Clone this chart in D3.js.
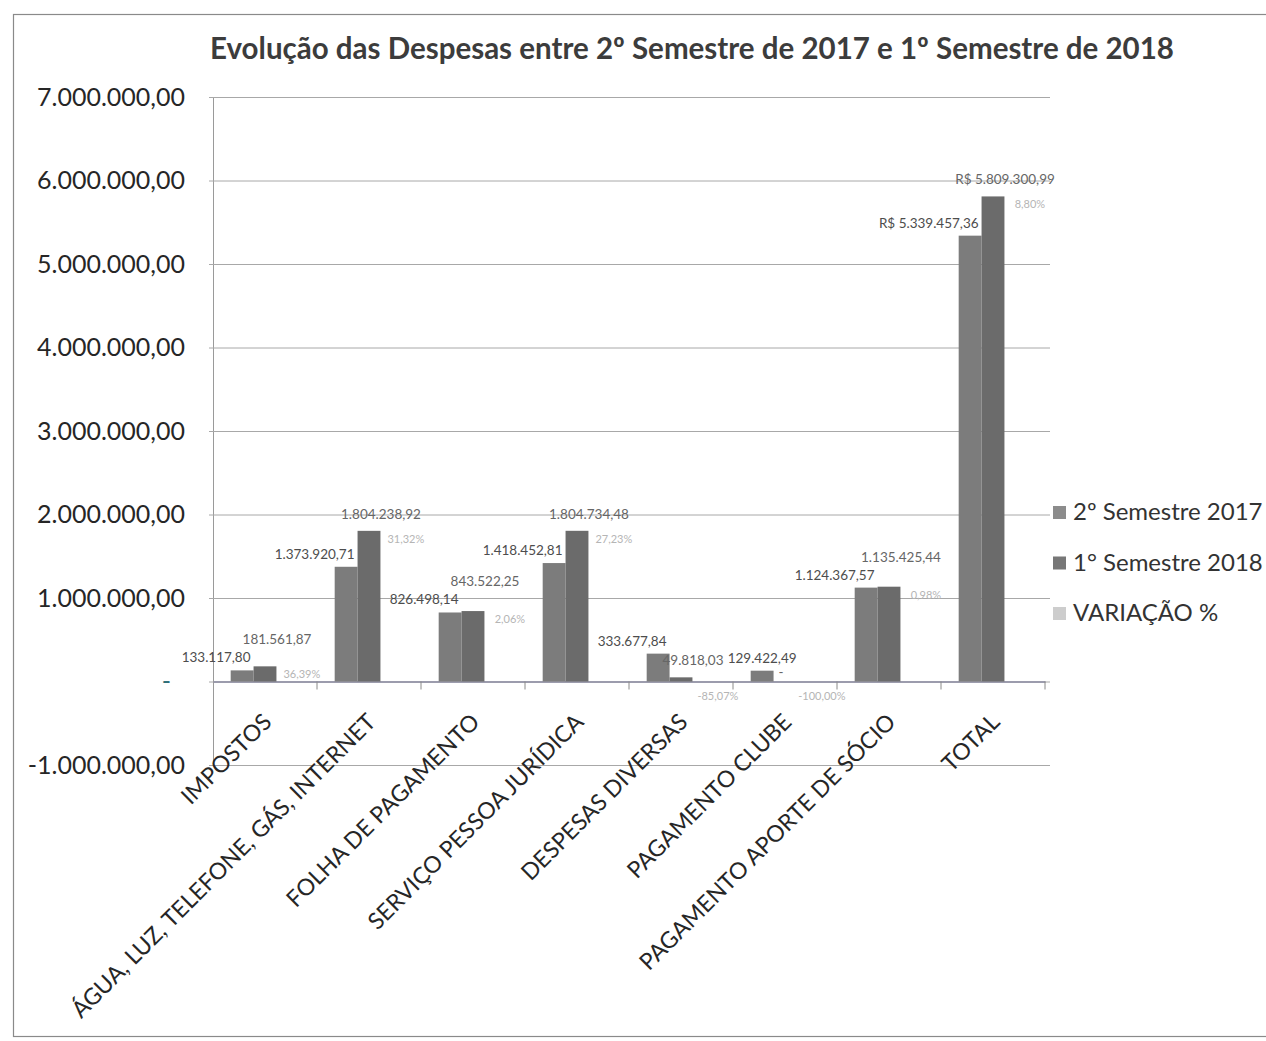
<!DOCTYPE html>
<html>
<head>
<meta charset="utf-8">
<script src="https://cdn.jsdelivr.net/npm/d3@7"></script>
<style>
  body { margin: 0; background: #fff; }
  svg { display: block; font-family: Lato, 'Open Sans', sans-serif; }
</style>
</head>
<body>
<svg id="chart" width="1266" height="1041"></svg>
<script>
// categories and values
const categories = [
  'IMPOSTOS',
  'ÁGUA, LUZ, TELEFONE, GÁS, INTERNET',
  'FOLHA DE PAGAMENTO',
  'SERVIÇO PESSOA JURÍDICA',
  'DESPESAS DIVERSAS',
  'PAGAMENTO CLUBE',
  'PAGAMENTO APORTE DE SÓCIO',
  'TOTAL'
];
const sem2017 = [133117.80, 1373920.71, 826498.14, 1418452.81, 333677.84, 129422.49, 1124367.57, 5339457.36];
const sem2018 = [181561.87, 1804238.92, 843522.25, 1804734.48, 49818.03, 0, 1135425.44, 5809300.99];
const variacao = [36.39, 31.32, 2.06, 27.23, -85.07, -100.00, 0.98, 8.80];
const yTicks = [-1000000, 0, 1000000, 2000000, 3000000, 4000000, 5000000, 6000000, 7000000];
const seriesNames = ['2º Semestre 2017', '1° Semestre 2018', 'VARIAÇÃO %'];

const colors = ['#7c7c7c', '#6b6b6b', '#c9c9c9'];

const ptBR = d3.formatLocale({decimal: ',', thousands: '.', grouping: [3], currency: ['R$ ', ''], minus: '-'});
const money = ptBR.format(',.2f');

const svg = d3.select('#chart');

// outer frame of the chart object
svg.append('rect')
  .attr('x', 13.5).attr('y', 14.5)
  .attr('width', 1270).attr('height', 1022)
  .attr('fill', 'none')
  .attr('stroke', '#8a8a8a')
  .attr('stroke-width', 1.2);

// title
svg.append('text')
  .attr('x', 692).attr('y', 59)
  .attr('text-anchor', 'middle')
  .attr('font-size', 29.5)
  .attr('font-weight', 'bold')
  .attr('fill', '#3c3c3c')
  .text('Evolução das Despesas entre 2º Semestre de 2017 e 1º Semestre  de 2018');

const plot = {left: 213, right: 1045, top: 97, bottom: 765};

const x = d3.scaleBand()
  .domain(categories)
  .range([plot.left, plot.right])
  .paddingInner(0.34)
  .paddingOuter(0.17);

const xs = d3.scaleBand()
  .domain([0, 1, 2])
  .range([0, x.bandwidth()]);

const y = d3.scaleLinear()
  .domain([-1000000, 7000000])
  .range([plot.bottom, plot.top]);

// gridlines + y labels
const yAxis = d3.axisLeft(y)
  .tickValues(yTicks)
  .tickSize(-(1050 - plot.left))
  .tickPadding(28)
  .tickFormat(d => d === 0 ? '-' : money(d));

const gy = svg.append('g')
  .attr('transform', `translate(${plot.left},0)`)
  .call(yAxis);
gy.select('.domain').attr('stroke', '#9a9a9a');
gy.selectAll('.tick line').attr('stroke', '#a8a8a8').attr('stroke-width', 1).attr('x1', -4);
gy.selectAll('.tick text')
  .attr('font-size', 25)
  .attr('font-family', 'Lato, sans-serif')
  .attr('dx', d => d === 0 ? -14 : 0)
  .attr('fill', d => d === 0 ? '#2e6f78' : '#262626');

// category axis on the zero line
const xAxis = d3.axisBottom(x).tickSize(0).tickFormat('');
const gx = svg.append('g')
  .attr('transform', `translate(0,${y(0)})`)
  .call(xAxis);
gx.select('.domain').attr('stroke', '#8a8aa0').attr('stroke-width', 1.5);

// tick marks at category boundaries
const step = x.step();
svg.append('g')
  .selectAll('line')
  .data(categories)
  .join('line')
  .attr('x1', d => x(d) - x.paddingOuter() * step + step)
  .attr('x2', d => x(d) - x.paddingOuter() * step + step)
  .attr('y1', y(0))
  .attr('y2', y(0) + 8)
  .attr('stroke', '#8a8a8a');

// category labels, rotated
svg.append('g')
  .selectAll('text')
  .data(categories)
  .join('text')
  .attr('transform', d => `translate(${x(d) + x.bandwidth() / 2 + 8},${y(0) + 42}) rotate(-45)`)
  .attr('text-anchor', 'end')
  .attr('font-size', 23)
  .attr('fill', '#262626')
  .text(d => d);

// bars
const rows = categories.map((c, i) => ({c, vals: [sem2017[i], sem2018[i], variacao[i] / 100]}));

const groups = svg.append('g')
  .selectAll('g')
  .data(rows)
  .join('g')
  .attr('transform', d => `translate(${x(d.c)},0)`);

groups.selectAll('rect')
  .data(d => d.vals.map((v, k) => ({k, v})))
  .join('rect')
  .attr('x', d => xs(d.k))
  .attr('width', xs.bandwidth())
  .attr('y', d => y(Math.max(0, d.v)))
  .attr('height', d => Math.abs(y(d.v) - y(0)))
  .attr('fill', d => colors[d.k]);

// value labels
const valLabel = (v, i) => {
  if (v === 0) return '-';
  return (i === categories.length - 1 ? 'R$ ' : '') + money(v);
};

const lab17 = svg.append('g')
  .selectAll('text')
  .data(sem2017)
  .join('text')
  .attr('x', (d, i) => x(categories[i]) + xs(0) + xs.bandwidth() - 3)
  .attr('y', d => y(d) - 8)
  .attr('text-anchor', 'end')
  .attr('font-size', 13.5)
  .attr('fill', '#4d4d4d')
  .text(valLabel);

const lab18 = svg.append('g')
  .selectAll('text')
  .data(sem2018)
  .join('text')
  .attr('x', (d, i) => x(categories[i]) + xs(1) + xs.bandwidth() / 2 + (d === 0 ? -4 : 12))
  .attr('y', d => y(d) - (d === 0 ? 5 : 12))
  .attr('text-anchor', 'middle')
  .attr('font-size', 13.5)
  .attr('fill', '#666')
  .text(valLabel);

// nudge labels that collide
const hit = (a, b) => a.x < b.x + b.width && b.x < a.x + a.width && a.y < b.y + b.height && b.y < a.y + a.height;
const n17 = lab17.nodes(), n18 = lab18.nodes();
n17.forEach((node, i) => {
  if (i === 0) return;
  const prev = n18[i - 1].getBBox();
  const box = node.getBBox();
  if (hit(box, prev)) {
    node.setAttribute('x', +node.getAttribute('x') + (prev.x + prev.width - box.x) + 4);
  }
});
n18.forEach((node, i) => {
  if (sem2018[i] === 0) return;
  const other = n17[i].getBBox();
  const box = node.getBBox();
  if (hit(box, other)) {
    node.setAttribute('y', +node.getAttribute('y') - (box.y + box.height - other.y) - 2);
  }
});

svg.append('g')
  .selectAll('text')
  .data(variacao)
  .join('text')
  .attr('x', (d, i) => x(categories[i]) + xs(2) + xs.bandwidth() / 2 + 14)
  .attr('y', (d, i) => d < 0 ? y(0) + 18 : y(sem2018[i]) + 12)
  .attr('text-anchor', 'middle')
  .attr('font-size', 11)
  .attr('fill', '#b5b5b5')
  .text(d => ptBR.format(',.2f')(d) + '%');

// legend
const legend = svg.append('g')
  .selectAll('g')
  .data(seriesNames)
  .join('g')
  .attr('transform', (d, i) => `translate(1053,${512 + i * 50.5})`);

legend.append('rect')
  .attr('x', 0).attr('y', -6)
  .attr('width', 13).attr('height', 13)
  .attr('fill', (d, i) => i === 2 ? '#cdcdcd' : (i === 0 ? '#8c8c8c' : '#777'));

legend.append('text')
  .attr('x', 20)
  .attr('y', 8)
  .attr('font-size', 24)
  .attr('fill', '#333')
  .text(d => d);
</script>
</body>
</html>
